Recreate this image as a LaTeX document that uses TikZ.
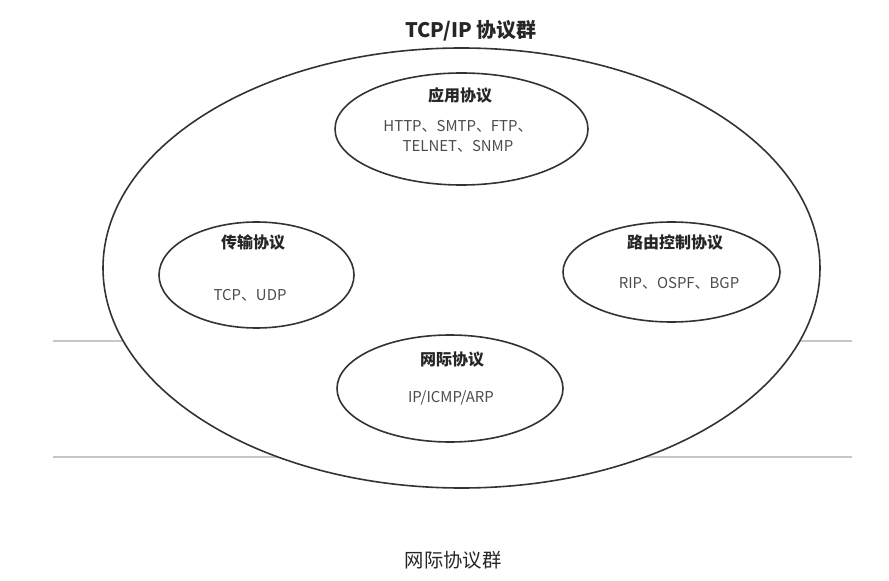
\documentclass[tikz,border=0pt]{standalone}
\usepackage{fontspec}
\setmainfont{Noto Sans CJK SC}
\usetikzlibrary{positioning, shapes.geometric}

\begin{document}
\begin{tikzpicture}[
			x=0.75pt, y=-0.75pt,
			outline/.style={draw=black!80, line width=1.2pt},
			protobox/.style={outline, ellipse, inner sep=0pt},
			ptitle/.style={font=\bfseries\fontsize{12}{14}\selectfont, text=black!85},
			pbody/.style={font=\fontsize{11.2}{14.5}\selectfont, text=black!70, align=center},
			rule/.style={draw=black!22, line width=1.4pt}
		]
		\useasboundingbox (0,0) rectangle (889,581);

		% gray rules behind the suite
		\coordinate (r1w) at (53,341);
		\coordinate (r1e) at (852,341);
		\coordinate (r2w) at (53,457);
		\coordinate (r2e) at (852,457);
		\draw[rule] (r1w) -- (r1e);
		\draw[rule] (r2w) -- (r2e);

		\node[font=\bfseries\fontsize{15}{18}\selectfont, text=black!85] (suite_title) at (471,31) {TCP/IP 协议群};
		\node[protobox, fill=white, minimum width=537.75pt, minimum height=330pt] (suite) at (461.5,268) {};

		\node[protobox, minimum width=189.75pt, minimum height=84pt] (app) at (461.5,129) {};
		\node[protobox, minimum width=146.25pt, minimum height=79.5pt] (trans) at (256.5,275) {};
		\node[protobox, minimum width=162.75pt, minimum height=75pt] (route) at (671.5,272) {};
		\node[protobox, minimum width=169.5pt, minimum height=80.25pt] (inet) at (450,388.5) {};

		\node[ptitle] (app_title) at (460,95) {应用协议};
		\node[pbody] (app_body) at (458,136.5) {HTTP、SMTP、FTP、\\TELNET、SNMP};
		\node[ptitle] (trans_title) at (253,242) {传输协议};
		\node[pbody] (trans_body) at (250,295) {TCP、UDP};
		\node[ptitle] (route_title) at (675,242) {路由控制协议};
		\node[pbody] (route_body) at (679,283) {RIP、OSPF、BGP};
		\node[ptitle] (inet_title) at (452,360) {网际协议};
		\node[pbody] (inet_body) at (451,398) {IP/ICMP/ARP};

		\node[font=\fontsize{14.5}{17}\selectfont, text=black!85] (caption) at (453,560) {网际协议群};
	\end{tikzpicture}
\end{document}
